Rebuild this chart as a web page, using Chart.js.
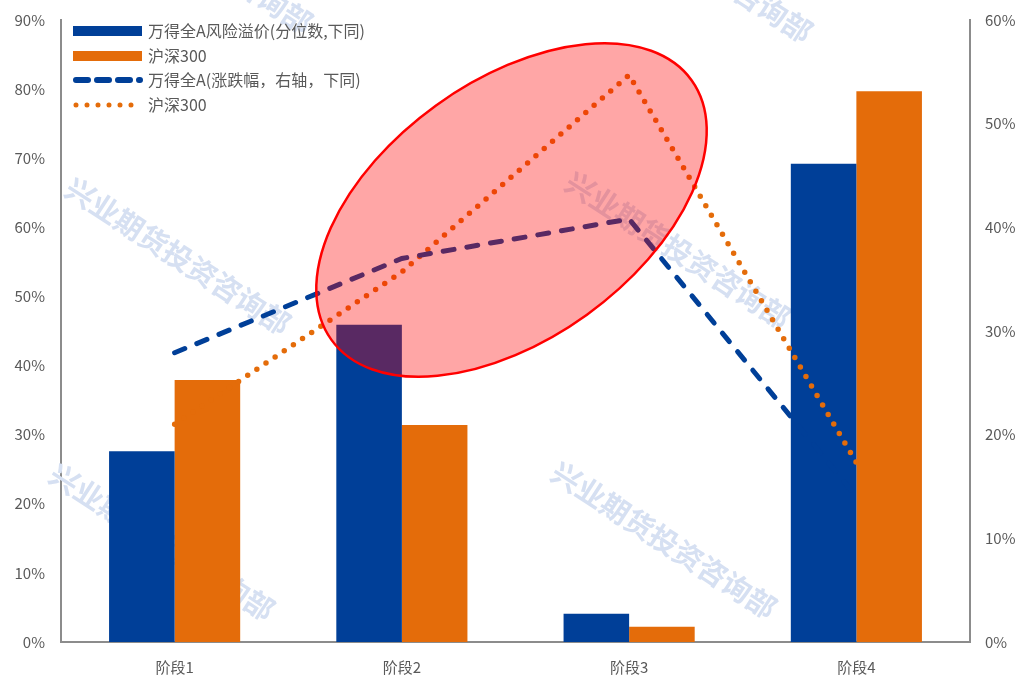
<!DOCTYPE html>
<html>
<head>
<meta charset="utf-8">
<script src="https://cdn.jsdelivr.net/npm/chart.js@4.4.1/dist/chart.umd.min.js"></script>
<style>
  html, body { margin: 0; padding: 0; background: #fff; }
  #wrap { width: 1023px; height: 678px; }
</style>
</head>
<body>
<div id="wrap"><canvas id="chart" width="1023" height="678"></canvas></div>
<script>
var stages = ["阶段1", "阶段2", "阶段3", "阶段4"]
var premiumWind = [27.6, 45.9, 4.1, 69.2]
var premiumHs300 = [37.9, 31.4, 2.2, 79.7]
var changeWind = [27.9, 37.0, 40.8, 14.0]
var changeHs300 = [21.0, 35.7, 54.7, 17.3]
var seriesNames = ["万得全A风险溢价(分位数,下同)", "沪深300", "万得全A(涨跌幅，右轴，下同)", "沪深300"]

var BLUE = "#003f98"
var ORANGE = "#e46c0a"
var GREY = "#595959"
var AXIS = "#8c8c8c"
var FONT = "'Noto Sans CJK SC', 'Open Sans', sans-serif"

// watermark behind the data
var watermark = {
  id: "watermark",
  beforeDatasetsDraw: function (chart) {
    var ctx = chart.ctx
    var spots = [[200, -45], [700, -36], [178, 256], [678, 250], [162, 542], [664, 540]]
    ctx.save()
    ctx.font = "bold 29px " + FONT
    ctx.fillStyle = "#d6e0f2"
    ctx.textAlign = "center"
    ctx.textBaseline = "middle"
    spots.forEach(function (p) {
      ctx.save()
      ctx.translate(p[0], p[1])
      ctx.rotate(33 * Math.PI / 180)
      ctx.fillText("兴业期货投资咨询部", 0, 0)
      ctx.restore()
    })
    ctx.restore()
  }
}

// red highlight ellipse + legend on top
var overlay = {
  id: "overlay",
  afterDraw: function (chart) {
    var ctx = chart.ctx
    var a = chart.chartArea
    var cx = a.left + 0.4956 * (a.right - a.left)
    var cy = a.top + 0.3055 * (a.bottom - a.top)
    ctx.save()
    ctx.beginPath()
    ctx.ellipse(cx, cy, 222, 129, -35.8 * Math.PI / 180, 0, Math.PI * 2)
    ctx.fillStyle = "rgba(255, 0, 0, 0.35)"
    ctx.fill()
    ctx.lineWidth = 2.5
    ctx.strokeStyle = "#ff0000"
    ctx.stroke()
    ctx.restore()

    // legend
    var x0 = 73, x1 = 142, rows = [31, 56, 80, 105]
    ctx.save()
    ctx.fillStyle = BLUE
    ctx.fillRect(x0, rows[0] - 5, x1 - x0, 10)
    ctx.fillStyle = ORANGE
    ctx.fillRect(x0, rows[1] - 5, x1 - x0, 10)
    ctx.lineCap = "round"
    ctx.lineWidth = 6
    ctx.strokeStyle = BLUE
    ctx.setLineDash([12, 9])
    ctx.beginPath()
    ctx.moveTo(x0 + 3, rows[2]); ctx.lineTo(x1 - 2, rows[2])
    ctx.stroke()
    ctx.lineWidth = 5
    ctx.strokeStyle = ORANGE
    ctx.setLineDash([0, 11])
    ctx.beginPath()
    ctx.moveTo(x0 + 3, rows[3]); ctx.lineTo(x1, rows[3])
    ctx.stroke()
    ctx.setLineDash([])
    ctx.fillStyle = GREY
    ctx.font = "16px " + FONT
    ctx.textBaseline = "middle"
    ctx.textAlign = "left"
    seriesNames.forEach(function (t, i) {
      ctx.fillText(t, 148, rows[i])
    })
    ctx.restore()
  }
}

// keep the plot area fixed: no extra room for half tick labels
function fitY(width) {
  return function (s) {
    s.width = width
    s.paddingTop = 0
    s.paddingBottom = 0
  }
}

var config = {
  type: "bar",
  data: {
    labels: stages,
    datasets: [
      {
        type: "line",
        label: seriesNames[2],
        data: changeWind,
        yAxisID: "y1",
        borderColor: BLUE,
        borderWidth: 5,
        borderDash: [11, 13],
        borderCapStyle: "round",
        pointRadius: 0,
        tension: 0,
        order: 0
      },
      {
        type: "line",
        label: seriesNames[3],
        data: changeHs300,
        yAxisID: "y1",
        borderColor: ORANGE,
        borderWidth: 5.5,
        borderDash: [0, 11],
        borderCapStyle: "round",
        pointRadius: 0,
        tension: 0,
        order: 0
      },
      {
        label: seriesNames[0],
        data: premiumWind,
        yAxisID: "y",
        backgroundColor: BLUE,
        categoryPercentage: 0.577,
        barPercentage: 1,
        order: 1
      },
      {
        label: seriesNames[1],
        data: premiumHs300,
        yAxisID: "y",
        backgroundColor: ORANGE,
        categoryPercentage: 0.577,
        barPercentage: 1,
        order: 1
      }
    ]
  },
  options: {
    responsive: false,
    animation: false,
    layout: { padding: { top: 20, left: 0, right: 0, bottom: 0 } },
    plugins: {
      legend: { display: false },
      tooltip: { enabled: false }
    },
    scales: {
      x: {
        grid: { display: false, drawTicks: false },
        border: { display: true, color: AXIS, width: 2 },
        ticks: { color: GREY, font: { size: 15, family: FONT }, padding: 16 },
        afterFit: function (s) { s.height = 36 }
      },
      y: {
        position: "left",
        min: 0,
        max: 90,
        grid: { display: false, drawTicks: false },
        border: { display: true, color: AXIS, width: 2 },
        ticks: {
          stepSize: 10,
          color: GREY,
          font: { size: 15, family: FONT },
          padding: 16,
          callback: function (v) { return v + "%" }
        },
        afterFit: fitY(61)
      },
      y1: {
        position: "right",
        min: 0,
        max: 60,
        grid: { display: false, drawTicks: false },
        border: { display: true, color: AXIS, width: 2 },
        ticks: {
          stepSize: 10,
          color: GREY,
          font: { size: 15, family: FONT },
          padding: 15,
          callback: function (v) { return v + "%" }
        },
        afterFit: fitY(53)
      }
    }
  },
  plugins: [watermark, overlay]
}

var chart = new Chart(document.getElementById("chart"), config)
</script>
</body>
</html>
